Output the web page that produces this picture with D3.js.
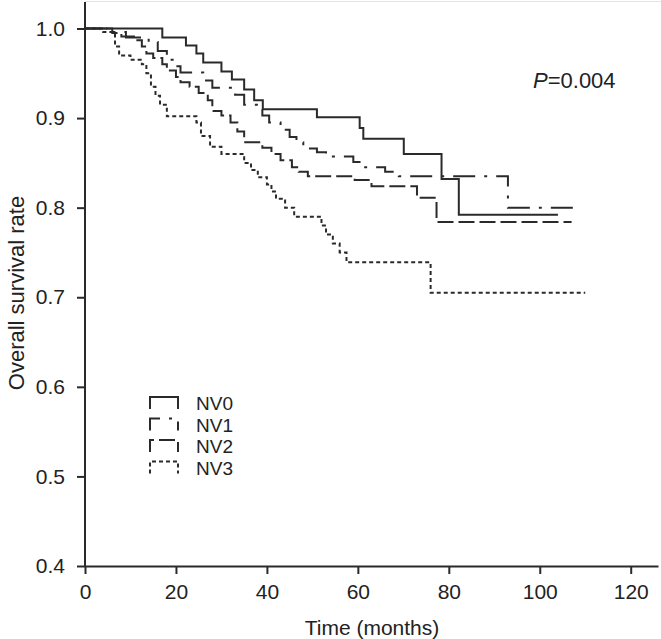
<!DOCTYPE html>
<html><head><meta charset="utf-8">
<script src="https://cdn.jsdelivr.net/npm/d3@7"></script>
<style>body{margin:0;background:#fff;} svg text{font-family:Arial,"Liberation Sans",sans-serif;fill:#222;}</style>
</head><body><svg id="chart" width="661" height="639"></svg>
<script>
const groups = ["NV0", "NV1", "NV2", "NV3"];
// Kaplan–Meier step data: event times (months) and survival after each step
const nv0Time = [0, 17, 22.2, 24.5, 26, 30, 32.3, 35, 37.2, 39.1, 51, 60.4, 61.2, 70.1, 78.4, 82.2, 104];
const nv0Surv = [1.0, 0.99, 0.981, 0.972, 0.962, 0.952, 0.943, 0.932, 0.92, 0.91, 0.901, 0.889, 0.877, 0.86, 0.832, 0.792, 0.792];
const nv1Time = [0, 5, 9, 14, 16, 18, 20, 21, 26, 28, 33, 35, 39, 40.5, 43, 45, 46.5, 48, 51, 53, 59, 61, 66, 69, 93, 108.5];
const nv1Surv = [1.0, 0.996, 0.99, 0.985, 0.975, 0.965, 0.958, 0.951, 0.942, 0.934, 0.926, 0.915, 0.903, 0.895, 0.887, 0.879, 0.873, 0.866, 0.862, 0.857, 0.851, 0.845, 0.84, 0.835, 0.80, 0.80];
const nv2Time = [0, 6, 8, 11, 12.5, 13.5, 15, 17, 18, 20, 21, 23, 25, 27, 28, 30, 32, 33.5, 35, 39, 41, 43, 45.5, 47, 49, 59.3, 63, 73, 77.3, 107];
const nv2Surv = [1.0, 0.995, 0.991, 0.987, 0.98, 0.972, 0.967, 0.96, 0.953, 0.946, 0.94, 0.935, 0.928, 0.92, 0.908, 0.903, 0.895, 0.885, 0.873, 0.867, 0.86, 0.853, 0.845, 0.84, 0.835, 0.831, 0.824, 0.811, 0.784, 0.784];
const nv3Time = [0, 4, 6.6, 7.5, 10, 12.5, 13.5, 14.5, 15.5, 16.5, 18, 24.5, 25.5, 27.5, 30, 35, 36.5, 38, 40, 41, 42, 44, 46, 52, 53, 54.5, 56, 57.5, 76, 110];
const nv3Surv = [1.0, 0.996, 0.98, 0.97, 0.965, 0.96, 0.95, 0.935, 0.925, 0.915, 0.902, 0.895, 0.88, 0.868, 0.86, 0.85, 0.842, 0.834, 0.826, 0.818, 0.81, 0.80, 0.79, 0.78, 0.77, 0.76, 0.75, 0.739, 0.705, 0.705];
const xTicks = [0, 20, 40, 60, 80, 100, 120];
const yTicks = [0.4, 0.5, 0.6, 0.7, 0.8, 0.9, 1.0];
const dashes = ["none", "22,9,3,9", "16,5", "4,3"];

const svg = d3.select("#chart");
const x = d3.scaleLinear().domain([0, 126]).range([85, 658]);
const y = d3.scaleLinear().domain([0.4, 1.0]).range([566, 28.5]);
const ink = "#2a2a2a";

svg.append("line").attr("x1", 85).attr("x2", 661).attr("y1", 1.5).attr("y2", 1.5)
  .attr("stroke", "#e4e4e4").attr("stroke-width", 1);

const xAxis = svg.append("g").attr("transform", `translate(0,${y(0.4)})`)
  .call(d3.axisBottom(x).tickValues(xTicks).tickFormat(d3.format("d")).tickSize(8).tickSizeOuter(0));
const yAxis = svg.append("g").attr("transform", `translate(${x(0)},0)`)
  .call(d3.axisLeft(y).tickValues(yTicks).tickFormat(d3.format(".1f")).tickSize(8).tickSizeOuter(0));
[xAxis, yAxis].forEach(g => {
  g.select(".domain").attr("stroke", ink).attr("stroke-width", 2);
  g.selectAll(".tick line").attr("stroke", ink).attr("stroke-width", 2);
  g.selectAll(".tick text").attr("font-size", 21).attr("fill", "#222")
    .attr("font-family", "Arial, 'Liberation Sans', sans-serif");
});
xAxis.selectAll(".tick text").attr("dy", "1.05em");
yAxis.selectAll(".tick text").attr("x", -20);
yAxis.select(".domain").attr("d", `M0,${y(0.4)}V2`);

svg.append("text").attr("x", 372).attr("y", 635).attr("text-anchor", "middle")
  .attr("font-size", 21).text("Time (months)");
svg.append("text").attr("transform", `translate(24,293) rotate(-90)`).attr("text-anchor", "middle")
  .attr("font-size", 22).text("Overall survival rate");

const p = svg.append("text").attr("x", 533).attr("y", 88).attr("font-size", 22);
p.append("tspan").attr("font-style", "italic").text("P");
p.append("tspan").text("=0.004");

const series = [
  {name: groups[0], t: nv0Time, s: nv0Surv},
  {name: groups[1], t: nv1Time, s: nv1Surv},
  {name: groups[2], t: nv2Time, s: nv2Surv},
  {name: groups[3], t: nv3Time, s: nv3Surv}
];
const line = d3.line().x(d => x(d[0])).y(d => y(d[1])).curve(d3.curveStepAfter);
series.forEach((sr, i) => {
  const pts = sr.t.map((t, j) => [t, sr.s[j]]);
  svg.append("path").attr("d", line(pts)).attr("fill", "none")
    .attr("stroke", ink).attr("stroke-width", 2)
    .attr("stroke-dasharray", dashes[i]);
});

const lg = svg.append("g");
series.forEach((sr, i) => {
  const ly = 403 + i * 21.5;
  lg.append("path").attr("d", `M150,${ly + 6}V${ly - 6}H178V${ly + 6}`)
    .attr("fill", "none").attr("stroke", ink).attr("stroke-width", 2)
    .attr("stroke-dasharray", dashes[i]);
  lg.append("text").attr("x", 196).attr("y", ly + 7).attr("font-size", 19).text(sr.name);
});
</script></body></html>
